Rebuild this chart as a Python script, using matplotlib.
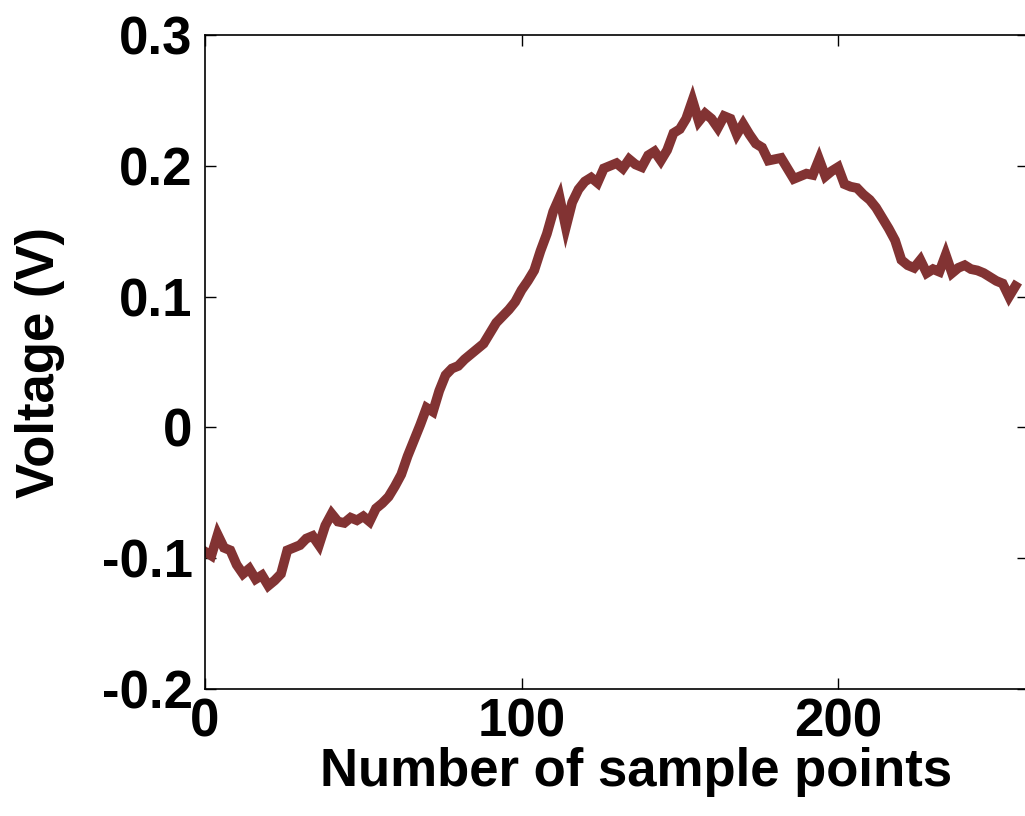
import matplotlib
matplotlib.use("Agg")
import matplotlib.pyplot as plt
import numpy as np

# sample index (every 2nd point) and voltage
samples = list(range(0, 258, 2))
voltage = [
    -0.095, -0.098, -0.082, -0.092, -0.094, -0.105, -0.112, -0.108, -0.116, -0.113,
    -0.121, -0.117, -0.112, -0.094, -0.092, -0.090, -0.085, -0.083, -0.090, -0.075,
    -0.066, -0.072, -0.073, -0.069, -0.071, -0.068, -0.072, -0.062, -0.058, -0.053,
    -0.045, -0.036, -0.022, -0.010, 0.002, 0.015, 0.012, 0.028, 0.040, 0.045,
    0.047, 0.052, 0.056, 0.060, 0.064, 0.072, 0.080, 0.085, 0.090, 0.096,
    0.105, 0.112, 0.120, 0.135, 0.148, 0.165, 0.176, 0.153, 0.172, 0.182,
    0.188, 0.191, 0.187, 0.198, 0.200, 0.202, 0.198, 0.205, 0.201, 0.199,
    0.208, 0.211, 0.204, 0.212, 0.225, 0.228, 0.236, 0.250, 0.234,
    0.240, 0.236, 0.229, 0.238, 0.236, 0.224, 0.232, 0.224, 0.217, 0.214,
    0.204, 0.205, 0.206, 0.198, 0.190, 0.192, 0.194, 0.193, 0.205, 0.192,
    0.196, 0.199, 0.186, 0.184, 0.183, 0.178, 0.174, 0.168, 0.160, 0.152,
    0.143, 0.128, 0.124, 0.122, 0.128, 0.118, 0.121, 0.119, 0.132, 0.118,
    0.122, 0.124, 0.121, 0.120, 0.118, 0.115, 0.112, 0.110, 0.100, 0.108,
]
x_ticks = [0, 100, 200]
y_ticks = [-0.2, -0.1, 0, 0.1, 0.2, 0.3]
y_tick_labels = ["-0.2", "-0.1", "0", "0.1", "0.2", "0.3"]

plt.rcParams["font.family"] = ["Liberation Sans", "DejaVu Sans"]
plt.rcParams["font.weight"] = "bold"

fig = plt.figure(figsize=(10.25, 8.16), dpi=100)
# right spine sits just past the image edge, as in the cropped original
ax = fig.add_axes([205 / 1025, 1 - 689 / 816, 823 / 1025, (689 - 35) / 816])
ax.plot(samples, voltage, color="#823333", lw=7, solid_joinstyle="miter")

ax.set_xlim(0, 260)
ax.set_ylim(-0.2, 0.3)
ax.set_xticks(x_ticks)
ax.set_yticks(y_ticks)
ax.set_yticklabels(y_tick_labels)
ax.tick_params(direction="in", length=8, width=1, top=True, right=True,
               labelsize=38)
ax.tick_params(axis="y", pad=9)
ax.tick_params(axis="x", pad=6)
for sp in ax.spines.values():
    sp.set_linewidth(1.2)

ax.set_xlabel("Number of sample points", fontsize=38, fontweight="bold")
ax.xaxis.set_label_coords(0.524, -0.088, transform=ax.transAxes)
ax.xaxis.label.set_va("top")
ax.set_ylabel("Voltage (V)", fontsize=38, fontweight="bold", labelpad=26)

fig.savefig("out.png", dpi=100)
